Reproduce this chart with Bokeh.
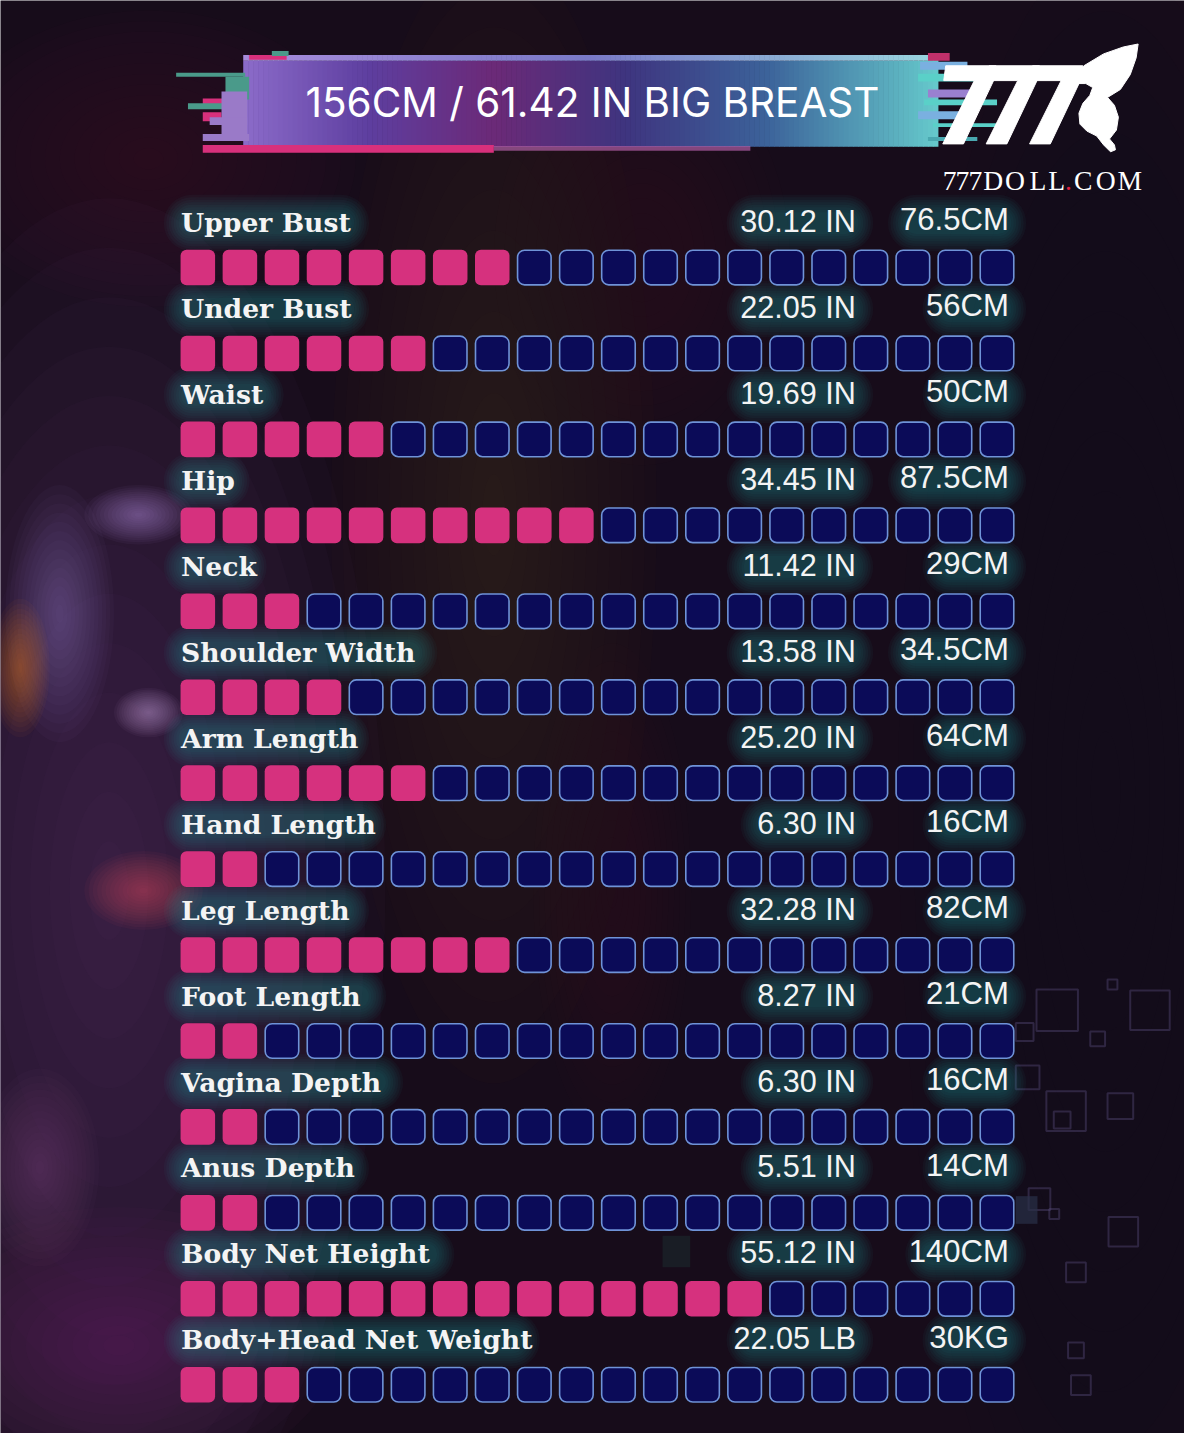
import numpy as np
from bokeh.plotting import figure
from bokeh.models import Range1d
from bokeh.core.properties import value
from bokeh.embed import file_html
from bokeh.resources import INLINE

# ---------------- data ----------------
title = "156CM / 61.42 IN BIG BREAST"
labels = ["Upper Bust", "Under Bust", "Waist", "Hip", "Neck", "Shoulder Width",
          "Arm Length", "Hand Length", "Leg Length", "Foot Length", "Vagina Depth",
          "Anus Depth", "Body Net Height", "Body+Head Net Weight"]
inch_values = ["30.12 IN", "22.05 IN", "19.69 IN", "34.45 IN", "11.42 IN", "13.58 IN",
               "25.20 IN", "6.30 IN", "32.28 IN", "8.27 IN", "6.30 IN", "5.51 IN",
               "55.12 IN", "22.05 LB"]
metric_values = ["76.5CM", "56CM", "50CM", "87.5CM", "29CM", "34.5CM", "64CM", "16CM",
                 "82CM", "21CM", "16CM", "14CM", "140CM", "30KG"]
filled_blocks = [8, 6, 5, 10, 3, 4, 6, 2, 8, 2, 2, 2, 14, 3]
total_blocks = 20
site = "777DOLL.COM"

# ---------------- figure ----------------
W, H = 1184, 1433
RW, RH = 1200, 1449          # design space
S = W / RW                   # px per design unit
p = figure(width=W, height=H, x_range=Range1d(0, RW), y_range=Range1d(RH, 0),
           x_axis_type=None, y_axis_type=None, toolbar_location=None,
           output_backend="svg", min_border=0, outline_line_color=None,
           background_fill_color="#170c1a", border_fill_color="#170c1a")
p.grid.visible = False

BASE_SHIFT = 0.385  # baseline correction (em)


def fs(px):
    return "%.1fpx" % (px * S)


def txt(x, y, t, size, font, color="#f4f4f4", align="left", style="normal"):
    y = np.asarray(y, dtype=float) - BASE_SHIFT * size
    p.text(x=x, y=y, text=t, text_font=value(font), text_font_size=fs(size),
           text_font_style=style, text_color=color, text_align=align,
           text_baseline="alphabetic")


def blob(x, y, w, h, color, alpha, layers=14):
    for k in range(layers):
        s = 1 - k / layers
        p.ellipse(x=x, y=y, width=w * s, height=h * s, fill_color=color,
                  fill_alpha=alpha, line_color=None)


# ambient background
blob(1120, 800, 420, 1700, "#0c0a20", 0.05)
blob(500, 520, 330, 1150, "#4e3d24", 0.04)
blob(650, 260, 300, 420, "#3e2e22", 0.03)
blob(150, 160, 420, 300, "#48203e", 0.035)
blob(110, 900, 560, 1400, "#5e2e70", 0.055)
blob(60, 620, 110, 260, "#9a8ac8", 0.04)
blob(20, 675, 60, 140, "#d07030", 0.05)
blob(140, 520, 110, 60, "#b090d0", 0.05)
blob(150, 720, 70, 50, "#c0a0e0", 0.05)
blob(145, 900, 120, 80, "#d04860", 0.05)
blob(120, 1360, 440, 280, "#7a2a78", 0.045)
blob(40, 1180, 120, 200, "#8a4a8a", 0.035)
blob(620, 900, 160, 500, "#3a2c2c", 0.03)

# faint decorative squares on the right
deco = [(1071, 1021, 42), (1165, 1021, 40), (1127, 995, 10), (1112, 1050, 15),
        (1038, 1043, 18), (1041, 1089, 24), (1080, 1123, 40), (1076, 1132, 17),
        (1053, 1212, 22), (1068, 1227, 10), (1138, 1245, 30), (1090, 1286, 20),
        (1095, 1400, 20), (1135, 1118, 26), (1090, 1365, 16)]
for (dx, dy, ds) in deco:
    p.rect(x=dx, y=dy, width=ds, height=ds, fill_color=None,
           line_color="#5a4e80", line_alpha=0.4, line_width=2)
p.rect(x=1040, y=1223, width=22, height=28, fill_color="#2a3048", line_color=None,
       fill_alpha=0.7)
p.rect(x=685, y=1265, width=28, height=32, fill_color="#1c3434", line_color=None,
       fill_alpha=0.45)

# ---------------- banner ----------------
stops_pos = [0.0, 0.18, 0.36, 0.55, 0.75, 1.0]
stops_col = [(0x8c, 0x6c, 0xca), (0x5e, 0x3f, 0xa0), (0x6c, 0x2a, 0x78),
             (0x3f, 0x35, 0x80), (0x3c, 0x62, 0x9a), (0x66, 0xca, 0xcc)]
N = 140
bx0, bx1 = 246, 950
xs = np.linspace(bx0, bx1, N + 1)
cols, lcols = [], []
for i in range(N):
    t = (i + 0.5) / N
    c = [int(np.interp(t, stops_pos, [s[j] for s in stops_col])) for j in range(3)]
    cols.append("#%02x%02x%02x" % tuple(c))
    lc = [int(np.interp(t, [0, 0.5, 1], [0xa8, 0x7a, 0x9a])),
          int(np.interp(t, [0, 0.5, 1], [0x8c, 0x7a, 0xd8])),
          int(np.interp(t, [0, 0.5, 1], [0xdc, 0xc8, 0xe0]))]
    lcols.append("#%02x%02x%02x" % tuple(lc))
p.quad(left=xs[:-1], right=xs[1:] + 0.6, top=[61] * N, bottom=[148] * N,
       fill_color=cols, line_color=None)
p.quad(left=xs[:-1], right=xs[1:] + 0.6, top=[55] * N, bottom=[61] * N,
       fill_color=lcols, line_color=None)
# pink bottom strip
p.quad(left=[205], right=[500], top=[146], bottom=[154], fill_color="#d8307c",
       line_color=None)
p.quad(left=[500], right=[760], top=[147], bottom=[152], fill_color="#b060a8",
       line_color=None, fill_alpha=0.7)
# glitch pieces (left and right)
glitch = [(178, 248, 73, 77, "#4a9a8a"), (228, 252, 77, 100, "#4a9a8a"),
          (205, 236, 99, 105, "#d8307c"), (190, 236, 104, 110, "#4a9a8a"),
          (205, 224, 113, 122, "#d8307c"), (224, 250, 92, 135, "#9a7ac8"),
          (212, 250, 118, 126, "#9a7ac8"), (205, 252, 135, 142, "#9a7ac8"),
          (252, 290, 55, 60, "#d8307c"), (275, 292, 51, 56, "#4a9a8a"),
          (932, 980, 62, 70, "#7ab0e0"), (930, 1000, 74, 82, "#5ad0c8"),
          (940, 985, 90, 98, "#9a80d0"), (936, 1010, 100, 106, "#5ad0c8"),
          (930, 975, 112, 120, "#7ab0e0"), (945, 1010, 124, 128, "#5ad0c8"),
          (940, 990, 138, 142, "#4aa8b0"), (940, 962, 53, 61, "#c0306a")]
for (l, r, t, b, c) in glitch:
    p.quad(left=l, right=r, top=t, bottom=b, fill_color=c, line_color=None)

txt([600], [119], [title], 41, "Inter", color="white", align="center")

# logo: three italic 7s + butterfly wing
seven = [(3, 66), (54, 66), (52, 80), (21, 145), (0, 145), (32, 81), (1, 81)]
for x0 in [955, 999, 1043]:
    p.patch(x=[x0 + a for a, b in seven], y=[b for a, b in seven],
            fill_color="white", line_color="white", line_width=1)
wing = [(1086, 80), (1098, 66), (1118, 54), (1138, 47), (1153, 44), (1151, 58),
        (1145, 75), (1135, 90), (1122, 98), (1129, 106), (1133, 118), (1131, 131),
        (1124, 140), (1129, 146), (1130, 151), (1125, 153), (1118, 146), (1111, 137),
        (1101, 132), (1094, 125), (1093, 114), (1097, 104), (1104, 96), (1107, 88),
        (1100, 84), (1092, 84)]
p.patch(x=[a for a, b in wing], y=[b for a, b in wing], fill_color="white",
        line_color="white", line_width=1)
site_x = [955, 968, 981, 996, 1018, 1043, 1062, 1079, 1088, 1110, 1132]
site_c = ["#e02040" if ch == "." else "white" for ch in site]
for ch, sx, sc in zip(site, site_x, site_c):
    txt([sx], [193], [ch], 28, "Liberation Serif", color=sc)

# ---------------- rows ----------------
ROW0, ROW_PITCH = 270.0, 86.9
SQ_X0, SQ_PITCH = 200.0, 42.63
LABEL_X, IN_X, CM_X = 183, 867, 1022
LABEL_FS, IN_FS, CM_FS = 27, 31, 31.5

rows = np.arange(len(labels))
centers = ROW0 + rows * ROW_PITCH
baselines = centers - 35

# soft teal glow behind texts
lab_w = np.array([len(s) * 17.3 for s in labels])
in_w = np.array([len(s) * 14.2 for s in inch_values])
cm_w = np.array([len(s) * 17.5 for s in metric_values])
for g in range(0, 36, 5):
    a = 0.05
    for (xc, w) in [(LABEL_X + lab_w / 2, lab_w), (IN_X - in_w / 2, in_w),
                    (CM_X - cm_w / 2, cm_w)]:
        p.rect(x=xc, y=baselines - 10, width=w + g, height=22 + g,
               fill_color="#2c9a96", fill_alpha=a, line_color=None,
               border_radius=int((11 + g / 2) * S))

txt([LABEL_X] * len(labels), baselines, labels, LABEL_FS, "DejaVu Serif", style="bold")
txt([IN_X] * len(labels), baselines, inch_values, IN_FS, "Liberation Sans", align="right")
txt([CM_X] * len(labels), baselines - 1, metric_values, CM_FS, "Liberation Sans",
    align="right")

# squares
fx, fy, ex, ey = [], [], [], []
for r, n in enumerate(filled_blocks):
    for i in range(total_blocks):
        x = SQ_X0 + i * SQ_PITCH
        if i < n:
            fx.append(x); fy.append(centers[r])
        else:
            ex.append(x); ey.append(centers[r])
p.rect(x=ex, y=ey, width=34, height=35, fill_color="#0b0b58", line_color="#6f93d8",
       line_width=1.6, border_radius=7)
p.rect(x=fx, y=fy, width=35, height=36, fill_color="#d6317e", line_color=None,
       border_radius=6)

open("out.html", "w").write(file_html(p, INLINE))
